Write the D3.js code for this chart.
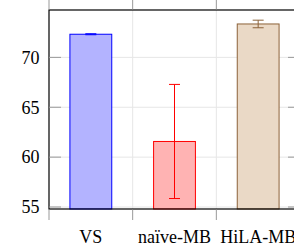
<!DOCTYPE html>
<html>
<head>
<meta charset="utf-8">
<script src="https://cdn.jsdelivr.net/npm/d3@7"></script>
<style>
html,body{margin:0;padding:0;background:#fff;}
svg{display:block;}
</style>
</head>
<body>
<svg id="chart" width="294" height="251"></svg>
<script>
const categories = ["VS", "naïve-MB", "HiLA-MB"];
const means = [72.32, 61.57, 73.35];
const errors = [0.05, 5.72, 0.38];
const fills = ["#b3b3ff", "#ffb3b3", "#ead9c6"];
const strokes = ["#0000ff", "#ff0000", "#8c6239"];
const yTicks = [55, 60, 65, 70];

const FONT = "'Liberation Serif', 'Times New Roman', Times, serif";
const svg = d3.select("#chart");
const mLeft = 49, mRight = 300, mTop = 10, mBottom = 209;

const x = d3.scaleBand().domain(categories).range([mLeft, mRight]).paddingInner(0).paddingOuter(0);
const y = d3.scaleLinear().domain([54.8, 74.75]).range([mBottom, mTop]);

const bw = x.bandwidth();
const boundaries = d3.range(categories.length + 1).map(i => mLeft + i * bw);

// grid
const grid = svg.append("g");
grid.selectAll("line.h").data(yTicks).join("line")
  .attr("x1", mLeft).attr("x2", mRight)
  .attr("y1", d => y(d)).attr("y2", d => y(d))
  .attr("stroke", "#e6e6e6").attr("stroke-width", 1);
grid.selectAll("line.v").data(boundaries.slice(1, -1)).join("line")
  .attr("x1", d => d).attr("x2", d => d)
  .attr("y1", mTop).attr("y2", mBottom)
  .attr("stroke", "#e6e6e6").attr("stroke-width", 1);

// bars
svg.append("g").selectAll("rect").data(categories).join("rect")
  .attr("x", (d) => x(d) + bw / 4)
  .attr("width", bw / 2)
  .attr("y", (d, i) => y(means[i]))
  .attr("height", (d, i) => y(54.8) - y(means[i]))
  .attr("fill", (d, i) => fills[i])
  .attr("stroke", (d, i) => strokes[i])
  .attr("stroke-width", 1);

// error bars
const eb = svg.append("g");
categories.forEach((c, i) => {
  const cx = x(c) + bw / 2;
  const g = eb.append("g").attr("stroke", strokes[i]).attr("stroke-width", 1);
  g.append("line").attr("x1", cx).attr("x2", cx)
    .attr("y1", y(means[i] - errors[i])).attr("y2", y(means[i] + errors[i]));
  [means[i] - errors[i], means[i] + errors[i]].forEach(v => {
    g.append("line").attr("x1", cx - 5.5).attr("x2", cx + 5.5)
      .attr("y1", y(v)).attr("y2", y(v));
  });
});

// axis frame
const frame = svg.append("g").attr("stroke", "#000").attr("stroke-width", 1.2).attr("fill", "none");
frame.append("rect").attr("x", mLeft).attr("y", mTop).attr("width", mRight - mLeft).attr("height", mBottom - mTop);

// ticks
const ticks = svg.append("g").attr("stroke", "#999").attr("stroke-width", 1);
ticks.selectAll("line.yl").data(yTicks).join("line")
  .attr("x1", mLeft).attr("x2", mLeft + 12)
  .attr("y1", d => y(d)).attr("y2", d => y(d));
ticks.selectAll("line.yr").data(yTicks).join("line")
  .attr("x1", mRight - 12).attr("x2", mRight)
  .attr("y1", d => y(d)).attr("y2", d => y(d));
ticks.selectAll("line.xb").data(boundaries).join("line")
  .attr("x1", d => d).attr("x2", d => d)
  .attr("y1", mBottom + 0.6).attr("y2", mBottom + 11);
ticks.selectAll("line.xt").data(boundaries).join("line")
  .attr("x1", d => d).attr("x2", d => d)
  .attr("y1", mTop - 0.6).attr("y2", mTop - 11);

// labels
svg.append("g").selectAll("text").data(yTicks).join("text")
  .attr("x", 39.5).attr("y", d => y(d) + 6.3)
  .attr("text-anchor", "end").attr("font-size", 18)
  .attr("font-family", FONT).attr("fill", "#000")
  .text(d => d);
svg.append("g").selectAll("text").data(categories).join("text")
  .attr("x", d => x(d) + bw / 2).attr("y", 243)
  .attr("text-anchor", "middle").attr("font-size", 18)
  .attr("font-family", FONT).attr("fill", "#000")
  .text(d => d);
</script>
</body>
</html>
